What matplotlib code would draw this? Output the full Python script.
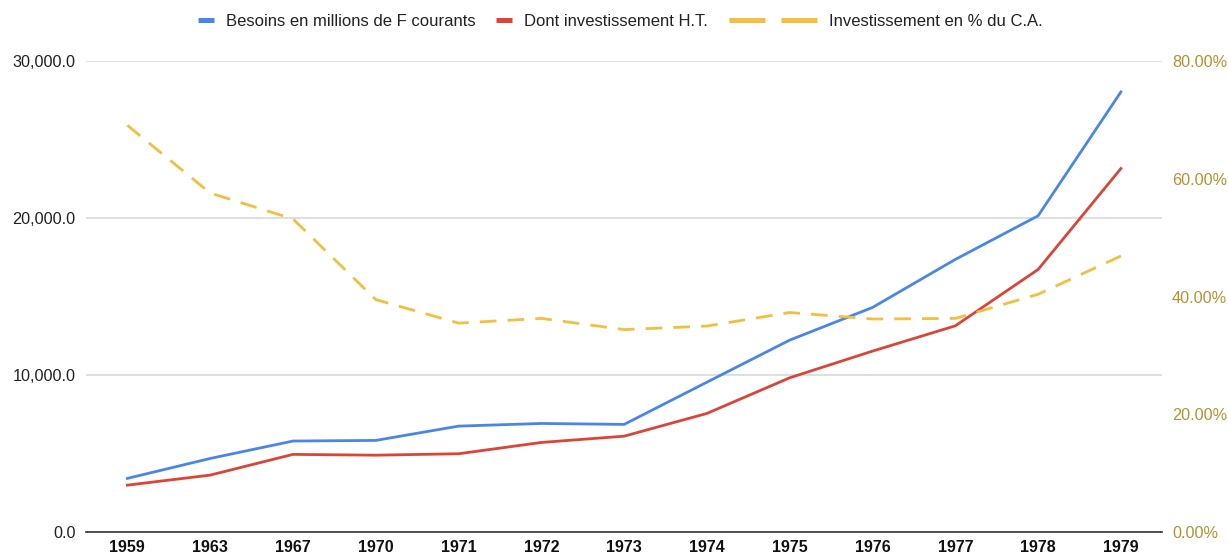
import matplotlib.pyplot as plt
from matplotlib.lines import Line2D
from matplotlib.ticker import FuncFormatter

# data
years = ["1959", "1963", "1967", "1970", "1971", "1972", "1973",
         "1974", "1975", "1976", "1977", "1978", "1979"]
besoins = [3420, 4690, 5800, 5840, 6750, 6920, 6860,
           9550, 12230, 14310, 17370, 20150, 28040]
investissement = [2990, 3630, 4950, 4900, 4990, 5710, 6110,
                  7560, 9830, 11530, 13140, 16730, 23160]
pct_ca = [69.1, 57.6, 53.2, 39.5, 35.5, 36.3, 34.4,
          35.0, 37.3, 36.2, 36.3, 40.4, 46.9]

BLUE = "#4a86e8"
RED = "#db4437"
YELLOW = "#f4be41"
GOLD = "#b8912f"

plt.rcParams["font.family"] = ["Liberation Sans", "DejaVu Sans"]

fig = plt.figure(figsize=(12.28, 5.56), dpi=100)
ax = fig.add_axes([0.0700, 0.043, 0.8765, 0.847])
ax2 = ax.twinx()

x = range(len(years))
ax.plot(x, besoins, color=BLUE, lw=2, zorder=3)
ax.plot(x, investissement, color=RED, lw=2, zorder=3)
ax2.plot(x, pct_ca, color=YELLOW, lw=2, dashes=(6, 4), zorder=3)

ax.set_xlim(-0.5, len(years) - 0.5)
ax.set_ylim(0, 30000)
ax2.set_ylim(0, 80)

ax.set_yticks([0, 10000, 20000, 30000])
ax.yaxis.set_major_formatter(FuncFormatter(lambda v, p: f"{v:,.1f}"))
ax2.set_yticks([0, 20, 40, 60, 80])
ax2.yaxis.set_major_formatter(FuncFormatter(lambda v, p: f"{v:.2f}%"))

ax.set_xticks(list(x))
ax.set_xticklabels(years, fontweight="bold", fontsize=11.5, color="#111111")

ax.grid(axis="y", color="#d9d9d9", lw=1.2, zorder=0)
ax.set_axisbelow(True)

for a in (ax, ax2):
    for s in ("top", "left", "right", "bottom"):
        a.spines[s].set_visible(False)
ax.spines["bottom"].set_visible(True)
ax.spines["bottom"].set_color("#333333")
ax.spines["bottom"].set_linewidth(1.2)

ax.tick_params(axis="y", length=0, labelsize=11.7, labelcolor="#222222", pad=7.5)
ax.tick_params(axis="x", length=0, pad=6)
ax2.tick_params(axis="y", length=0, labelsize=11.7, labelcolor=GOLD, pad=7)

# legend: three entries placed along the top
entries = [
    (Line2D([0], [0], color=BLUE, lw=3.6, solid_capstyle="butt"),
     "Besoins en millions de F courants", 198, 0.96),
    (Line2D([0], [0], color=RED, lw=3.6, solid_capstyle="butt"),
     "Dont investissement H.T.", 496, 0.96),
    (Line2D([0], [0], color=YELLOW, lw=3.6, dashes=(7.2, 3.2), dash_capstyle="butt"),
     "Investissement en % du C.A.", 729, 5.28),
]
for handle, label, xpos, hlen in entries:
    leg = fig.legend([handle], [label], loc="center left",
                     bbox_to_anchor=(xpos / 1228, 0.962), frameon=False,
                     fontsize=12, handlelength=hlen, handletextpad=0.7,
                     borderpad=0, borderaxespad=0)
    for t in leg.get_texts():
        t.set_color("#222222")

fig.savefig("out.png", dpi=100)
